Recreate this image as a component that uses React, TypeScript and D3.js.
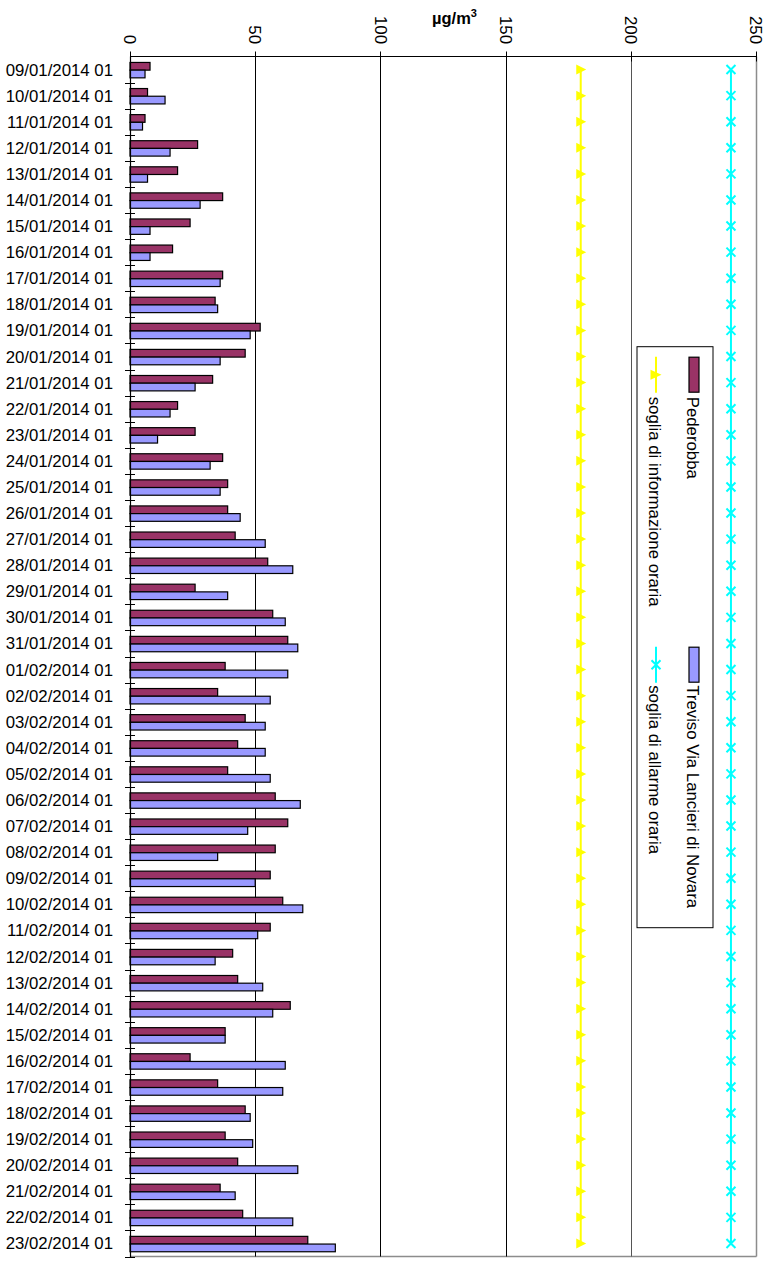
import React from "react";
import * as d3 from "d3";

const categories = [
  "09/01/2014 01", "10/01/2014 01", "11/01/2014 01", "12/01/2014 01", "13/01/2014 01",
  "14/01/2014 01", "15/01/2014 01", "16/01/2014 01", "17/01/2014 01", "18/01/2014 01",
  "19/01/2014 01", "20/01/2014 01", "21/01/2014 01", "22/01/2014 01", "23/01/2014 01",
  "24/01/2014 01", "25/01/2014 01", "26/01/2014 01", "27/01/2014 01", "28/01/2014 01",
  "29/01/2014 01", "30/01/2014 01", "31/01/2014 01", "01/02/2014 01", "02/02/2014 01",
  "03/02/2014 01", "04/02/2014 01", "05/02/2014 01", "06/02/2014 01", "07/02/2014 01",
  "08/02/2014 01", "09/02/2014 01", "10/02/2014 01", "11/02/2014 01", "12/02/2014 01",
  "13/02/2014 01", "14/02/2014 01", "15/02/2014 01", "16/02/2014 01", "17/02/2014 01",
  "18/02/2014 01", "19/02/2014 01", "20/02/2014 01", "21/02/2014 01", "22/02/2014 01",
  "23/02/2014 01",
];

const pederobba = [
  8, 7, 6, 27, 19, 37, 24, 17, 37, 34,
  52, 46, 33, 19, 26, 37, 39, 39, 42, 55,
  26, 57, 63, 38, 35, 46, 43, 39, 58, 63,
  58, 56, 61, 56, 41, 43, 64, 38, 24, 35,
  46, 38, 43, 36, 45, 71,
];

const treviso = [
  6, 14, 5, 16, 7, 28, 8, 8, 36, 35,
  48, 36, 26, 16, 11, 32, 36, 44, 54, 65,
  39, 62, 67, 63, 56, 54, 54, 56, 68, 47,
  35, 50, 69, 51, 34, 53, 57, 38, 62, 61,
  48, 49, 67, 42, 65, 82,
];

const sogliaInformazione = categories.map(() => 180);
const sogliaAllarme = categories.map(() => 240);

const xTicks = [0, 50, 100, 150, 200, 250];

const FONT = "'Liberation Sans', Arial, Helvetica, sans-serif";

export default function App() {
  const left = 130;
  const right = 756;
  const top = 56.5;
  const bottom = 1256.5;

  const x = d3.scaleLinear().domain([0, 250]).range([left, right]);
  const y = d3.scaleBand<string>().domain(categories).range([top, bottom]).padding(0);
  const bw = y.bandwidth();
  const barH = bw * 0.295;
  const groupOff = (bw - 2 * barH) / 2 + 0.6;

  const center = (c: string) => (y(c) as number) + bw / 2;

  const lineGen = d3
    .line<number>()
    .x((d) => x(d))
    .y((_, i) => center(categories[i]));

  const px = (v: number) => Math.round(x(v)) + 0.5;

  return (
    <svg
      width={774}
      height={1262}
      style={{ position: "absolute", left: 0, top: 0, background: "#fff" }}
      fontFamily={FONT}
    >
      {/* plot border right & bottom (gray) */}
      <line x1={px(250)} x2={px(250)} y1={top} y2={bottom} stroke="#8c8c8c" strokeWidth={1.5} />
      <line x1={left} x2={px(250)} y1={bottom} y2={bottom} stroke="#8c8c8c" strokeWidth={1.5} />

      {/* gridlines */}
      {xTicks
        .filter((t) => t > 0 && t < 250)
        .map((t) => (
          <line
            key={"g" + t}
            x1={px(t)}
            x2={px(t)}
            y1={top}
            y2={bottom}
            stroke={t === 200 ? "#555" : "#000"}
            strokeWidth={1}
          />
        ))}

      {/* bars */}
      {categories.map((c, i) => {
        const y0 = (y(c) as number) + groupOff;
        return (
          <g key={"b" + c}>
            <rect
              x={x(0)}
              y={y0}
              width={x(pederobba[i]) - x(0)}
              height={barH}
              fill="#993366"
              stroke="#000"
              strokeWidth={1.2}
            />
            <rect
              x={x(0)}
              y={y0 + barH}
              width={x(treviso[i]) - x(0)}
              height={barH}
              fill="#9999FF"
              stroke="#000"
              strokeWidth={1.2}
            />
          </g>
        );
      })}

      {/* threshold lines */}
      <path d={lineGen(sogliaInformazione) || ""} fill="none" stroke="#FFFF00" strokeWidth={2} />
      {sogliaInformazione.map((v, i) => {
        const cx = x(v);
        const cy = center(categories[i]);
        return (
          <path
            key={"ti" + i}
            d={`M${cx - 4.5},${cy - 5} L${cx + 5.5},${cy} L${cx - 4.5},${cy + 5} Z`}
            fill="#FFFF00"
          />
        );
      })}
      <path d={lineGen(sogliaAllarme) || ""} fill="none" stroke="#00FFFF" strokeWidth={2} />
      {sogliaAllarme.map((v, i) => {
        const cx = x(v);
        const cy = center(categories[i]);
        return (
          <path
            key={"xa" + i}
            d={`M${cx - 4.5},${cy - 4.5} L${cx + 4.5},${cy + 4.5} M${cx - 4.5},${cy + 4.5} L${cx + 4.5},${cy - 4.5}`}
            stroke="#00FFFF"
            strokeWidth={2}
          />
        );
      })}

      {/* category axis */}
      <line x1={left + 0.5} x2={left + 0.5} y1={top} y2={bottom + 1} stroke="#000" strokeWidth={1.2} />
      {categories.map((c) => (
        <line
          key={"ct" + c}
          x1={left - 5}
          x2={left + 5}
          y1={Math.round((y(c) as number) + bw) + 0.5}
          y2={Math.round((y(c) as number) + bw) + 0.5}
          stroke="#000"
        />
      ))}
      {categories.map((c) => (
        <text
          key={"cl" + c}
          x={113}
          y={center(c) + 6}
          textAnchor="end"
          fontSize={16.8}
          fill="#000"
        >
          {c}
        </text>
      ))}

      {/* value axis (top) */}
      <line x1={left} x2={px(250)} y1={top} y2={top} stroke="#000" strokeWidth={1.2} />
      {xTicks.map((t) => (
        <line key={"vt" + t} x1={px(t)} x2={px(t)} y1={top - 5} y2={top + 5} stroke="#000" />
      ))}
      {xTicks.map((t) => (
        <text
          key={"vl" + t}
          transform={`translate(${x(t)},44) rotate(90)`}
          textAnchor="end"
          dy="0.35em"
          fontSize={16.8}
          fill="#000"
        >
          {t}
        </text>
      ))}

      {/* axis title */}
      <text x={432} y={24} fontSize={16.5} fontWeight="bold" fill="#000">
        µg/m
        <tspan fontSize={11} dy={-7}>
          3
        </tspan>
      </text>

      {/* legend (rotated) */}
      <g transform="translate(713,346.7) rotate(90)" fontSize={16.8}>
        <rect x={0} y={0} width={581} height={76} fill="#fff" stroke="#000" strokeWidth={1} />
        <rect x={10.5} y={14} width={35} height={10} fill="#993366" stroke="#000" strokeWidth={1.2} />
        <text x={50} y={26} fill="#000">
          Pederobba
        </text>
        <rect x={300.5} y={14} width={35} height={10} fill="#9999FF" stroke="#000" strokeWidth={1.2} />
        <text x={338.5} y={26} fill="#000">
          Treviso Via Lancieri di Novara
        </text>

        <line x1={10} x2={46} y1={57} y2={57} stroke="#FFFF00" strokeWidth={2} />
        <path d="M23,62.5 L28,51.5 L33,62.5 Z" fill="#FFFF00" />
        <text x={50} y={64} fill="#000">
          soglia di informazione oraria
        </text>

        <line x1={300} x2={336} y1={57} y2={57} stroke="#00FFFF" strokeWidth={2} />
        <path d="M313.5,52.5 L322.5,61.5 M313.5,61.5 L322.5,52.5" stroke="#00FFFF" strokeWidth={2} />
        <text x={338.5} y={64} fill="#000">
          soglia di allarme oraria
        </text>
      </g>
    </svg>
  );
}
